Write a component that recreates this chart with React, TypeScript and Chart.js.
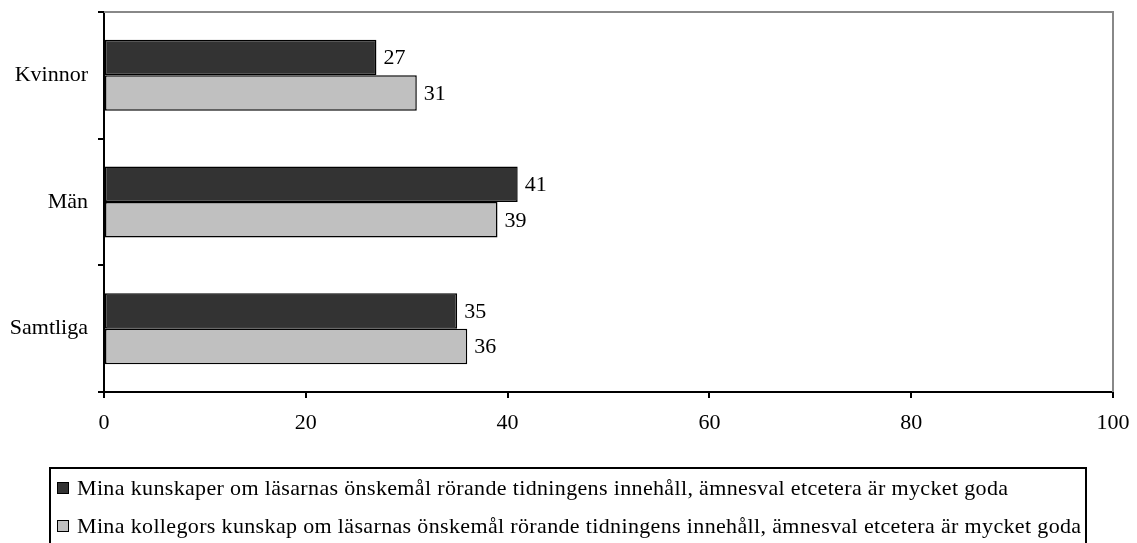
import React, { useEffect, useRef } from "react";
import { Chart, registerables } from "chart.js";

Chart.register(...registerables);

const categories = ["Kvinnor", "Män", "Samtliga"];
const seriesLabels = [
  "Mina kunskaper om läsarnas önskemål rörande tidningens innehåll, ämnesval etcetera är mycket goda",
  "Mina kollegors kunskap om läsarnas önskemål rörande tidningens innehåll, ämnesval etcetera är mycket goda",
];
const ownKnowledge = [27, 41, 35];
const colleaguesKnowledge = [31, 39, 36];
const xTicks = [0, 20, 40, 60, 80, 100];

const FONT = "'Liberation Serif', 'Times New Roman', serif";
const FONT_SIZE = 22;
const colors = ["#333333", "#c0c0c0"];

const valueLabels = {
  id: "valueLabels",
  afterDatasetsDraw(chart: any) {
    const ctx = chart.ctx;
    ctx.save();
    ctx.font = `${FONT_SIZE}px ${FONT}`;
    ctx.fillStyle = "#000";
    ctx.textAlign = "left";
    ctx.textBaseline = "middle";
    chart.data.datasets.forEach((ds: any, i: number) => {
      const meta = chart.getDatasetMeta(i);
      meta.data.forEach((bar: any, j: number) => {
        ctx.fillText(String(ds.data[j]), bar.x + 7, bar.y + 1);
      });
    });
    ctx.restore();
  },
};

const frame = {
  id: "frame",
  afterDraw(chart: any) {
    const { ctx, chartArea } = chart;
    ctx.save();
    ctx.strokeStyle = "#888888";
    ctx.lineWidth = 2;
    ctx.beginPath();
    ctx.moveTo(chartArea.left, chartArea.top);
    ctx.lineTo(chartArea.right, chartArea.top);
    ctx.lineTo(chartArea.right, chartArea.bottom);
    ctx.stroke();
    ctx.restore();
  },
};

export default function App() {
  const ref = useRef<HTMLCanvasElement>(null);
  useEffect(() => {
    if (!ref.current) return;
    const chart = new Chart(ref.current, {
      type: "bar",
      data: {
        labels: categories,
        datasets: [
          {
            label: seriesLabels[0],
            data: ownKnowledge,
            backgroundColor: colors[0],
            borderColor: "#000",
            borderWidth: 1.5,
            borderSkipped: false,
            categoryPercentage: 0.56,
            barPercentage: 1,
          },
          {
            label: seriesLabels[1],
            data: colleaguesKnowledge,
            backgroundColor: colors[1],
            borderColor: "#000",
            borderWidth: 1.5,
            borderSkipped: false,
            categoryPercentage: 0.56,
            barPercentage: 1,
          },
        ],
      },
      options: {
        indexAxis: "y",
        responsive: false,
        animation: false,
        layout: { padding: { left: 0, top: 12, right: 24, bottom: 111 } },
        plugins: {
          legend: { display: false },
          tooltip: { enabled: false },
        },
        scales: {
          x: {
            min: 0,
            max: 100,
            afterBuildTicks(axis: any) {
              axis.ticks = xTicks.map((v) => ({ value: v }));
            },
            afterFit(axis: any) {
              axis.height = 40;
              axis.paddingLeft = 0;
              axis.paddingRight = 0;
            },
            grid: {
              drawOnChartArea: false,
              drawTicks: true,
              tickLength: 6,
              color: "#000",
              lineWidth: 2,
            },
            border: { display: true, color: "#000", width: 2 },
            ticks: {
              color: "#000",
              font: { family: FONT, size: FONT_SIZE },
              padding: 12,
              maxRotation: 0,
            },
          },
          y: {
            afterFit(axis: any) {
              axis.width = 104;
              axis.paddingTop = 0;
              axis.paddingBottom = 0;
            },
            grid: {
              offset: true,
              drawOnChartArea: false,
              drawTicks: true,
              tickLength: 6,
              color: "#000",
              lineWidth: 2,
            },
            border: { display: true, color: "#000", width: 2 },
            ticks: {
              color: "#000",
              font: { family: FONT, size: FONT_SIZE },
              padding: 10,
            },
          },
        },
      },
      plugins: [valueLabels, frame],
    });
    return () => chart.destroy();
  }, []);

  const legendItem = (i: number) => (
    <div
      key={i}
      style={{
        position: "absolute",
        left: 6,
        top: 6 + i * 38,
        display: "flex",
        alignItems: "center",
        whiteSpace: "nowrap",
      }}
    >
      <span
        style={{
          display: "inline-block",
          width: 10,
          height: 10,
          background: colors[i],
          border: "1px solid #000",
          marginRight: 8,
        }}
      />
      <span
        style={{
          fontFamily: FONT,
          fontSize: FONT_SIZE,
          color: "#000",
          lineHeight: "26px",
          letterSpacing: "0.35px",
        }}
      >
        {seriesLabels[i]}
      </span>
    </div>
  );

  return (
    <div style={{ position: "absolute", left: 0, top: 0, width: 1137, height: 543, overflow: "hidden", background: "#fff" }}>
      <canvas ref={ref} width={1137} height={543} style={{ position: "absolute", left: 0, top: 0 }} />
      <div
        style={{
          position: "absolute",
          left: 49,
          top: 467,
          width: 1038,
          height: 100,
          border: "2px solid #000",
          boxSizing: "border-box",
        }}
      >
        {legendItem(0)}
        {legendItem(1)}
      </div>
    </div>
  );
}
